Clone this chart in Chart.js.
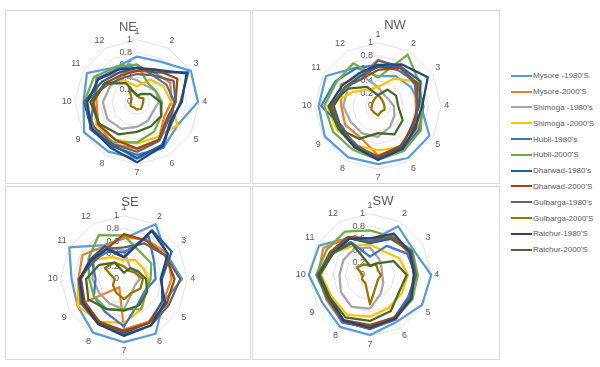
<!DOCTYPE html>
<html>
<head>
<meta charset="utf-8">
<script src="https://cdn.jsdelivr.net/npm/chart.js@4.4.1/dist/chart.umd.min.js"></script>
<style>
  body { margin: 0; width: 600px; height: 367px; position: relative; overflow: hidden; background: #fff;
         font-family: "Liberation Sans", Arial, sans-serif; }
  .panel { position: absolute; border: 1px solid #d9d9d9; box-sizing: border-box; }
  canvas { position: absolute; }
  .title { position: absolute; font-size: 13px; color: #595959; transform: translate(-50%, -50%); }
  #legend { position: absolute; left: 511px; top: 68px; }
  .item { height: 15.8px; display: flex; align-items: center; font-size: 8px; color: #595959; white-space: nowrap; }
  .item span { display: inline-block; width: 21px; height: 2px; margin-right: 1px; }
</style>
</head>
<body>
<div class="panel" style="left:5px;top:10px;width:246px;height:174px"></div>
<div class="panel" style="left:252px;top:10px;width:248px;height:174px"></div>
<div class="panel" style="left:5px;top:186px;width:246px;height:174px"></div>
<div class="panel" style="left:252px;top:186px;width:248px;height:174px"></div>

<canvas id="ne" width="152" height="152" style="left:59px;top:27px"></canvas>
<canvas id="nw" width="154" height="154" style="left:299px;top:30px"></canvas>
<canvas id="se" width="154" height="154" style="left:45px;top:203px"></canvas>
<canvas id="sw" width="150" height="150" style="left:293px;top:201px"></canvas>

<div class="title" style="left:128px;top:26px">NE</div>
<div class="title" style="left:395px;top:24px">NW</div>
<div class="title" style="left:130px;top:201px">SE</div>
<div class="title" style="left:383px;top:200px">SW</div>

<div id="legend"></div>

<script>
// axes of every radar (months)
const axes = ["1", "2", "3", "4", "5", "6", "7", "8", "9", "10", "11", "12"];

const seriesNames = [
  "Mysore -1980'S", "Mysore-2000'S", "Shimoga -1980's", "Shimoga -2000'S",
  "Hubli-1980's", "Hubli-2000'S", "Dharwad-1980's", "Dharwad-2000'S",
  "Gulbarga-1980's", "Gulbarga-2000'S", "Raichur-1980'S", "Raichur-2000'S"
];

const colors = [
  "#5B9BD5", "#ED7D31", "#A5A5A5", "#FFC000", "#4472C4", "#70AD47",
  "#255E91", "#9E480E", "#636363", "#997300", "#264478", "#43682B"
];

// one row per series, in the order of seriesNames
const neValues = [
  [0.73, 0.75, 1.0, 0.98, 0.75, 0.85, 0.91, 0.92, 0.98, 0.86, 0.93, 0.65],
  [0.5, 0.55, 0.62, 0.55, 0.5, 0.7, 0.75, 0.78, 0.72, 0.65, 0.75, 0.55],
  [0.35, 0.3, 0.35, 0.35, 0.3, 0.35, 0.4, 0.5, 0.55, 0.55, 0.5, 0.5],
  [0.25, 0.42, 0.5, 0.55, 0.75, 0.65, 0.67, 0.7, 0.75, 0.7, 0.6, 0.4],
  [0.6, 0.5, 0.55, 0.6, 0.62, 0.85, 0.85, 0.82, 0.87, 0.7, 0.75, 0.62],
  [0.6, 0.35, 0.35, 0.4, 0.45, 0.55, 0.65, 0.75, 0.82, 0.85, 0.8, 0.66],
  [0.55, 0.55, 0.95, 0.7, 0.65, 0.8, 0.9, 0.8, 0.85, 0.85, 0.65, 0.55],
  [0.5, 0.6, 0.75, 0.62, 0.55, 0.7, 0.75, 0.7, 0.72, 0.7, 0.6, 0.5],
  [0.45, 0.5, 0.68, 0.62, 0.58, 0.72, 0.8, 0.78, 0.8, 0.84, 0.55, 0.45],
  [0.12, 0.08, 0.12, 0.1, 0.1, 0.13, 0.12, 0.1, 0.12, 0.1, 0.1, 0.25],
  [0.55, 0.6, 0.92, 0.72, 0.62, 0.82, 0.97, 0.85, 0.85, 0.8, 0.72, 0.6],
  [0.1, 0.15, 0.25, 0.38, 0.45, 0.45, 0.48, 0.6, 0.7, 0.75, 0.6, 0.35]
];

const nwValues = [
  [0.47, 0.55, 0.6, 0.68, 0.94, 0.95, 0.92, 0.94, 0.97, 0.94, 0.95, 0.7],
  [0.73, 0.7, 0.68, 0.6, 0.72, 0.75, 0.78, 0.57, 0.6, 0.58, 0.68, 0.55],
  [0.3, 0.2, 0.2, 0.25, 0.3, 0.38, 0.49, 0.5, 0.5, 0.55, 0.55, 0.59],
  [0.3, 0.5, 0.76, 0.68, 0.72, 0.75, 0.7, 0.72, 0.75, 0.8, 0.45, 0.3],
  [0.65, 0.65, 0.72, 0.72, 0.75, 0.8, 0.85, 0.75, 0.65, 0.9, 0.78, 0.69],
  [0.45, 0.94, 0.75, 0.7, 0.78, 0.82, 0.85, 0.8, 0.82, 0.85, 0.76, 0.78],
  [0.62, 0.72, 0.78, 0.65, 0.62, 0.75, 0.82, 0.72, 0.68, 0.7, 0.6, 0.55],
  [0.57, 0.7, 0.72, 0.62, 0.65, 0.72, 0.8, 0.72, 0.7, 0.72, 0.6, 0.5],
  [0.72, 0.72, 0.68, 0.62, 0.7, 0.78, 0.85, 0.7, 0.7, 0.75, 0.6, 0.5],
  [0.18, 0.12, 0.1, 0.1, 0.12, 0.1, 0.15, 0.12, 0.12, 0.1, 0.1, 0.12],
  [0.65, 0.76, 0.91, 0.7, 0.68, 0.78, 0.85, 0.75, 0.72, 0.78, 0.65, 0.6],
  [0.17, 0.3, 0.33, 0.32, 0.45, 0.52, 0.43, 0.6, 0.72, 0.77, 0.55, 0.35]
];

const seValues = [
  [0.64, 1.0, 0.78, 0.92, 0.72, 1.0, 1.0, 0.98, 0.85, 0.83, 1.0, 0.62],
  [0.66, 0.72, 0.8, 0.75, 0.72, 0.78, 0.8, 0.15, 0.8, 0.72, 0.76, 0.6],
  [0.45, 0.2, 0.22, 0.25, 0.2, 0.25, 0.48, 0.45, 0.45, 0.5, 0.55, 0.6],
  [0.3, 0.35, 0.35, 0.38, 0.4, 0.55, 0.7, 0.78, 0.85, 0.72, 0.6, 0.4],
  [0.42, 0.78, 0.55, 0.5, 0.38, 0.45, 0.75, 0.6, 0.55, 0.45, 0.58, 0.5],
  [0.69, 0.5, 0.5, 0.42, 0.4, 0.55, 0.48, 0.55, 0.55, 0.55, 0.65, 0.8],
  [0.35, 0.89, 0.87, 0.6, 0.7, 0.8, 0.85, 0.8, 0.75, 0.7, 0.62, 0.6],
  [0.71, 0.7, 0.75, 0.8, 0.78, 0.8, 0.82, 0.78, 0.72, 0.68, 0.6, 0.55],
  [0.5, 0.65, 0.75, 0.89, 0.82, 0.85, 0.88, 0.82, 0.78, 0.72, 0.55, 0.55],
  [0.2, 0.15, 0.2, 0.3, 0.3, 0.25, 0.32, 0.25, 0.2, 0.15, 0.35, 0.3],
  [0.34, 0.88, 0.8, 0.58, 0.75, 0.85, 0.9, 0.82, 0.75, 0.7, 0.6, 0.55],
  [0.1, 0.2, 0.25, 0.35, 0.42, 0.48, 0.5, 0.55, 0.65, 0.6, 0.45, 0.3]
];

const swValues = [
  [0.55, 0.92, 0.82, 1.0, 0.98, 0.88, 0.98, 0.98, 0.9, 1.0, 0.96, 0.7],
  [0.6, 0.75, 0.72, 0.75, 0.75, 0.82, 0.85, 0.9, 0.82, 0.85, 0.88, 0.7],
  [0.45, 0.3, 0.22, 0.2, 0.25, 0.35, 0.55, 0.6, 0.55, 0.5, 0.5, 0.5],
  [0.5, 0.45, 0.55, 0.62, 0.6, 0.62, 0.68, 0.75, 0.72, 0.8, 0.72, 0.55],
  [0.3, 0.55, 0.7, 0.75, 0.72, 0.8, 0.85, 0.9, 0.78, 0.85, 0.75, 0.62],
  [0.73, 0.72, 0.8, 0.78, 0.8, 0.82, 0.85, 0.88, 0.8, 0.88, 0.82, 0.82],
  [0.52, 0.68, 0.78, 0.72, 0.75, 0.82, 0.88, 0.88, 0.78, 0.85, 0.72, 0.7],
  [0.6, 0.7, 0.75, 0.72, 0.78, 0.8, 0.82, 0.85, 0.78, 0.85, 0.75, 0.72],
  [0.55, 0.72, 0.78, 0.75, 0.75, 0.84, 0.88, 0.88, 0.8, 0.86, 0.72, 0.7],
  [0.15, 0.2, 0.15, 0.18, 0.15, 0.2, 0.48, 0.15, 0.15, 0.12, 0.25, 0.2],
  [0.6, 0.78, 0.75, 0.72, 0.78, 0.82, 0.86, 0.86, 0.76, 0.84, 0.7, 0.68],
  [0.15, 0.22, 0.45, 0.6, 0.55, 0.68, 0.75, 0.8, 0.75, 0.82, 0.7, 0.6]
];

const font = "'Liberation Sans', Arial, sans-serif";

// Excel puts the value labels just left of the vertical axis
const tickLabels = {
  id: "tickLabels",
  beforeDatasetsDraw(chart) {
    const r = chart.scales.r;
    const ctx = chart.ctx;
    ctx.save();
    ctx.font = "9px " + font;
    ctx.fillStyle = "#595959";
    ctx.textAlign = "right";
    ctx.textBaseline = "middle";
    r.ticks.forEach(t => {
      const label = String(Math.round(t.value * 10) / 10);
      ctx.fillText(label, r.xCenter - 5, r.yCenter - r.getDistanceFromCenterForValue(t.value));
    });
    ctx.restore();
  }
};

function radar(id, values) {
  return new Chart(id, {
    type: "radar",
    data: {
      labels: axes,
      datasets: values.map((vals, i) => ({
        label: seriesNames[i],
        data: vals,
        borderColor: colors[i],
        borderWidth: 2.25,
        pointRadius: 0,
        fill: false,
        order: values.length - i
      }))
    },
    options: {
      responsive: false,
      animation: false,
      devicePixelRatio: 1,
      layout: { padding: 0 },
      elements: { line: { tension: 0, borderJoinStyle: "round" } },
      plugins: { legend: { display: false }, tooltip: { enabled: false } },
      scales: {
        r: {
          min: 0,
          max: 1,
          ticks: { stepSize: 0.2, display: false },
          grid: { color: "#e3e3e3", lineWidth: 1 },
          angleLines: { display: false },
          pointLabels: { color: "#595959", font: { size: 9, family: font }, padding: 3 }
        }
      }
    },
    plugins: [tickLabels]
  });
}

radar("ne", neValues);
radar("nw", nwValues);
radar("se", seValues);
radar("sw", swValues);

const legend = document.getElementById("legend");
seriesNames.forEach((name, i) => {
  const row = document.createElement("div");
  row.className = "item";
  row.innerHTML = '<span style="background:' + colors[i] + '"></span>' + name;
  legend.appendChild(row);
});
</script>
</body>
</html>
